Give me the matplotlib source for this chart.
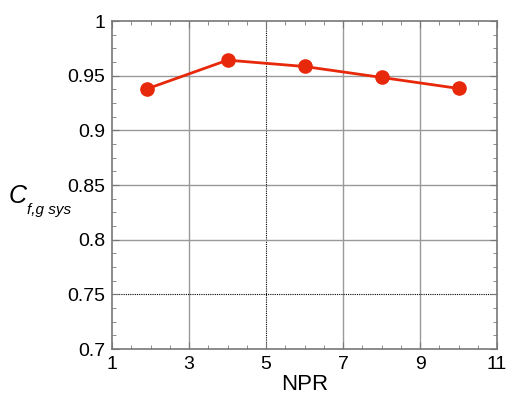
import matplotlib
matplotlib.use("Agg")
import matplotlib.pyplot as plt
from matplotlib.ticker import MultipleLocator

plt.rcParams['font.family'] = ['Liberation Sans', 'DejaVu Sans']

npr = [1.9, 4.0, 6.0, 8.0, 10.0]
cfg = [0.9378, 0.9642, 0.9584, 0.9484, 0.9383]
xticks = [1, 3, 5, 7, 9, 11]
yticks = [0.7, 0.75, 0.8, 0.85, 0.9, 0.95, 1.0]
ytick_labels = ["0.7", "0.75", "0.8", "0.85", "0.9", "0.95", "1"]

W, H = 510, 405
fig = plt.figure(figsize=(W/100, H/100), dpi=100)
ax = fig.add_axes([112/W, 1-349/H, (497-112)/W, (349-21)/H])

ax.set_xlim(1, 11)
ax.set_ylim(0.7, 1.0)
ax.set_xticks(xticks)
ax.set_xticklabels([str(t) for t in xticks])
ax.set_yticks(yticks)
ax.set_yticklabels(ytick_labels)
ax.xaxis.set_minor_locator(MultipleLocator(0.5))
ax.yaxis.set_minor_locator(MultipleLocator(0.0125))

# grid lines
for xv in xticks[1:-1]:
    if xv == 5:
        ax.axvline(xv, color='black', lw=0.8, ls=(0, (1, 1)), zorder=1)
    else:
        ax.axvline(xv, color='#999999', lw=1.0, zorder=1)
for yv in yticks[1:-1]:
    if abs(yv - 0.75) < 1e-9:
        ax.axhline(yv, color='black', lw=0.8, ls=(0, (1, 1)), zorder=1)
    else:
        ax.axhline(yv, color='#999999', lw=1.0, zorder=1)

ax.plot(npr, cfg, color='#E8280A', lw=2.0, marker='o', markersize=9.5,
        markerfacecolor='#E8280A', markeredgecolor='#E8280A', zorder=3)

ax.tick_params(which='both', direction='in', top=True, right=True,
               colors='#777777', labelcolor='black', labelsize=14)
ax.tick_params(which='major', length=5, width=0.8, pad=5)
ax.tick_params(which='minor', length=3, width=0.6)
for s in ax.spines.values():
    s.set_color('#777777')
    s.set_linewidth(1.2)

ax.set_xlabel('NPR', fontsize=16, labelpad=1)
fig.text(9/W, 1-203/H, 'C', fontsize=18, style='italic',
         ha='left', va='baseline')
fig.text(27/W, 1-214/H, 'f,g sys', fontsize=11, style='italic',
         ha='left', va='baseline')

fig.savefig('out.png', dpi=100)
